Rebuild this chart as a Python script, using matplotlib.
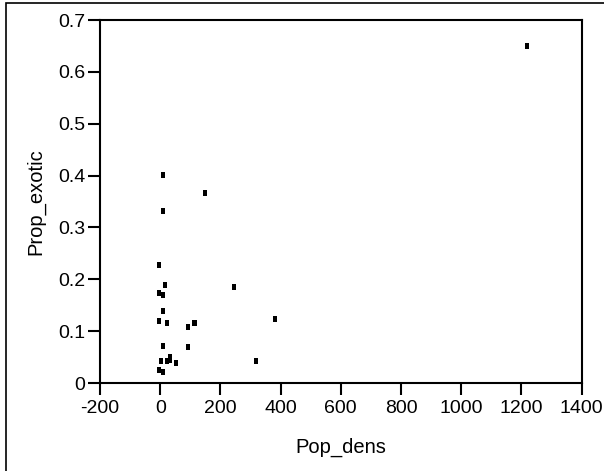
import matplotlib
matplotlib.use("Agg")
import matplotlib.pyplot as plt
from matplotlib.patches import Rectangle

pop_dens = [11, 150, 11, -3, 17, -3, 11, 244, 11, -3, 24, 91, 111, 117,
            383, 11, 91, 4, 24, 31, 31, 51, 317, -3, 11, 1219]
prop_exotic = [0.401, 0.367, 0.332, 0.227, 0.189, 0.173, 0.169, 0.185,
               0.138, 0.119, 0.116, 0.108, 0.116, 0.116, 0.123, 0.072,
               0.069, 0.042, 0.042, 0.050, 0.045, 0.038, 0.042, 0.026,
               0.022, 0.650]

x_ticks = [-200, 0, 200, 400, 600, 800, 1000, 1200, 1400]
y_ticks = [0, 0.1, 0.2, 0.3, 0.4, 0.5, 0.6, 0.7]
y_tick_labels = ["0", "0.1", "0.2", "0.3", "0.4", "0.5", "0.6", "0.7"]

plt.rcParams["font.family"] = ["Liberation Sans", "DejaVu Sans"]
plt.rcParams["axes.unicode_minus"] = False

W, H = 604, 471
fig = plt.figure(figsize=(W / 100, H / 100), dpi=100)

# outer frame around the figure
fig.patches.append(Rectangle((6 / W, -0.1), 1.2, 1 - 3 / H + 0.1,
                             transform=fig.transFigure, fill=False,
                             edgecolor="black", linewidth=1.2))

ax = fig.add_axes([100 / W, 1 - 383 / H, 481.5 / W, 363 / H])

# small upright rectangles as markers
rect = [(-0.67, -1), (0.67, -1), (0.67, 1), (-0.67, 1), (-0.67, -1)]
ax.plot(pop_dens, prop_exotic, linestyle="none", marker=rect,
        markersize=4.4, color="black", markeredgewidth=0)

ax.set_xlim(-200, 1400)
ax.set_ylim(0, 0.7)
ax.set_xticks(x_ticks)
ax.set_yticks(y_ticks)
ax.set_yticklabels(y_tick_labels)

for s in ax.spines.values():
    s.set_linewidth(1.5)
ax.tick_params(direction="out", length=8.5, width=1.5, labelsize=14,
               pad=2, top=False, right=False)
ax.tick_params(axis="x", pad=4)

ax.set_xlabel("Pop_dens", fontsize=14.5, labelpad=15)
ax.set_ylabel("Prop_exotic", fontsize=14.5, labelpad=9)

fig.savefig("out.png", dpi=100)
